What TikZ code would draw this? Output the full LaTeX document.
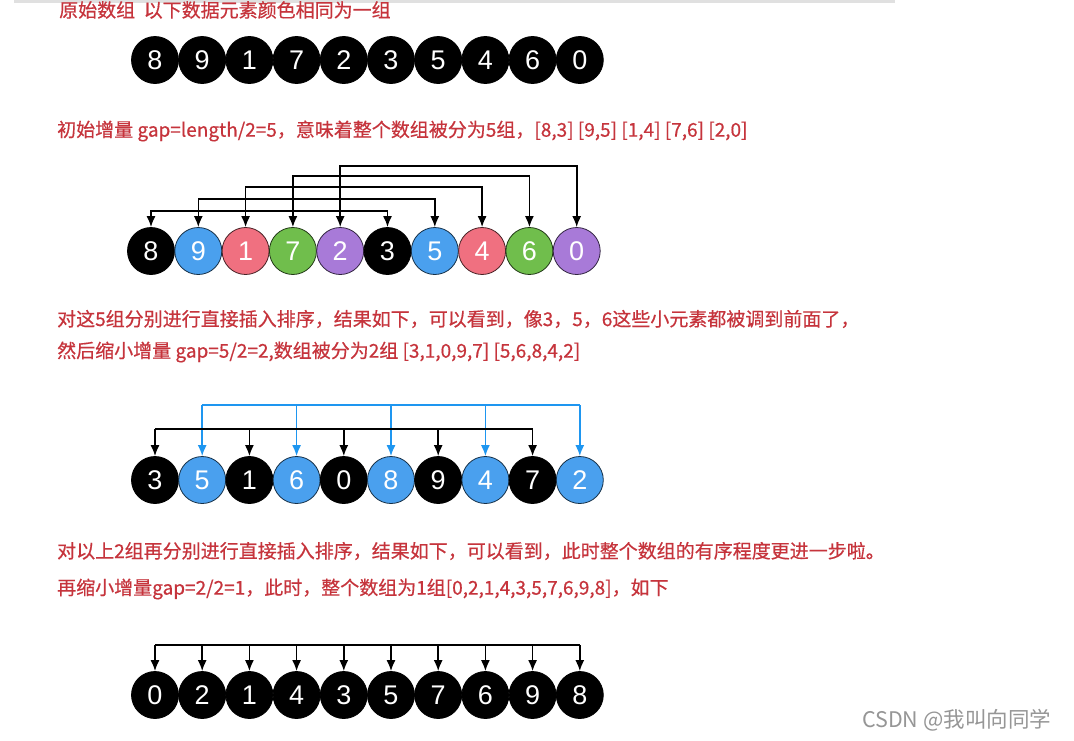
\documentclass[tikz,border=0pt]{standalone}
\usepackage{fontspec}
\newfontfamily\cjk[FakeBold=0.5]{Noto Sans CJK SC}
\newfontfamily\cjkw{Noto Sans CJK SC}
\newfontfamily\numfont{Liberation Sans}
\usetikzlibrary{arrows.meta,calc}
\definecolor{txtred}{RGB}{198,52,60}
\definecolor{cblue}{RGB}{74,160,238}
\definecolor{cpink}{RGB}{240,112,128}
\definecolor{cgreen}{RGB}{112,190,76}
\definecolor{cpurple}{RGB}{168,122,216}
\definecolor{lblue}{RGB}{30,150,240}
\definecolor{wmgray}{RGB}{150,150,150}
\tikzset{
  ball/.style={circle,draw=black,line width=0.8pt,minimum size=47pt,inner sep=0pt,
    text=white,font=\numfont\fontsize{27}{27}\selectfont},
  bk/.style={ball,fill=black},
  bb/.style={ball,fill=cblue,draw=black!70!cblue},
  bp/.style={ball,fill=cpink,draw=black!70!cpink},
  bg/.style={ball,fill=cgreen,draw=black!70!cgreen},
  bu/.style={ball,fill=cpurple,draw=black!70!cpurple},
  caption/.style={anchor=west,inner sep=0pt,text=txtred,font=\cjk\fontsize{19}{22}\selectfont},
  conn/.style={line width=1.6pt,draw=black},
  bconn/.style={line width=1.6pt,draw=lblue},
  tip/.style={-{Latex[length=11pt,width=9pt]}},
  twotip/.style={{Latex[length=11pt,width=9pt]}-{Latex[length=11pt,width=9pt]}},
}
\begin{document}
\begin{tikzpicture}[x=1pt,y=-1pt]
\useasboundingbox[fill=white] (0,0) rectangle (1074,740);
\draw[line width=3pt,draw=black!12] (14,1.5) -- (895,1.5);

% captions
\node[caption] (t1) at (59,10) {原始数组\ \ 以下数据元素颜色相同为一组};
\node[caption] (t2) at (57,131) {初始增量 gap=length/2=5，意味着整个数组被分为5组，[8,3] [9,5] [1,4] [7,6] [2,0]};
\node[caption] (t3) at (57,319) {对这5组分别进行直接插入排序，结果如下，可以看到，像3，5，6这些小元素都被调到前面了，};
\node[caption] (t4) at (57,352) {然后缩小增量 gap=5/2=2,数组被分为2组 [3,1,0,9,7] [5,6,8,4,2]};
\node[caption] (t5) at (57,551) {对以上2组再分别进行直接插入排序，结果如下，可以看到，此时整个数组的有序程度更进一步啦。};
\node[caption] (t6) at (57,589) {再缩小增量gap=2/2=1，此时，整个数组为1组[0,2,1,4,3,5,7,6,9,8]，如下};
\node[anchor=west,inner sep=0pt,text=wmgray,font=\cjkw\fontsize{21.5}{24}\selectfont] (wm) at (862,720) {CSDN @我叫向同学};

% row 1
\foreach \v [count=\i from 0] in {8,9,1,7,2,3,5,4,6,0}
  \node[bk] (r1c\i) at (155+47.2*\i,60) {\v};

% row 2
\foreach \v/\s [count=\i from 0] in {8/bk,9/bb,1/bp,7/bg,2/bu,3/bk,5/bb,4/bp,6/bg,0/bu}
  \node[\s] (r2c\i) at (151+47.3*\i,251) {\v};

% row 3
\foreach \v/\s [count=\i from 0] in {3/bk,5/bb,1/bk,6/bb,0/bk,8/bb,9/bk,4/bb,7/bk,2/bb}
  \node[\s] (r3c\i) at (155+47.2*\i,480) {\v};

% row 4
\foreach \v [count=\i from 0] in {0,2,1,4,3,5,7,6,9,8}
  \node[bk] (r4c\i) at (155+47.2*\i,695) {\v};

% row 2 connectors
\coordinate (h0) at (0,211);
\coordinate (h1) at (0,199);
\coordinate (h2) at (0,187);
\coordinate (h3) at (0,176);
\coordinate (h4) at (0,166);
\foreach \a/\b/\h in {0/5/h0,1/6/h1,2/7/h2,3/8/h3,4/9/h4}
  \draw[conn,twotip] (r2c\a.north) -- (r2c\a.north |- \h) -- (r2c\b.north |- \h) -- (r2c\b.north);

% row 3 connectors
\coordinate (hb) at (0,429);
\coordinate (hu) at (0,405);
\draw[bconn] (r3c1.north |- hu) -- (r3c9.north |- hu);
\foreach \i in {1,3,5,7,9}
  \draw[bconn,tip] (r3c\i.north |- hu) -- (r3c\i.north);
\draw[conn] (r3c0.north |- hb) -- (r3c8.north |- hb);
\foreach \i in {0,2,4,6,8}
  \draw[conn,tip] (r3c\i.north |- hb) -- (r3c\i.north);

% row 4 connectors
\coordinate (hf) at (0,645);
\draw[conn] (r4c0.north |- hf) -- (r4c9.north |- hf);
\foreach \i in {0,...,9}
  \draw[conn,tip] (r4c\i.north |- hf) -- (r4c\i.north);
\end{tikzpicture}
\end{document}
